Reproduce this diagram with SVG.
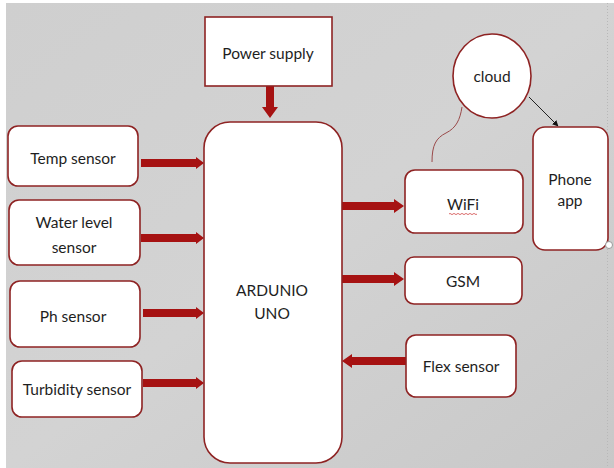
<svg xmlns="http://www.w3.org/2000/svg" width="614" height="468" viewBox="0 0 614 468">
  <defs>
    <linearGradient id="bg" x1="0" y1="0" x2="1" y2="1">
      <stop offset="0" stop-color="#cfcfcf"/>
      <stop offset="0.5" stop-color="#d3d3d3"/>
      <stop offset="1" stop-color="#c8c8c8"/>
    </linearGradient>
    <marker id="thin" viewBox="0 0 10 10" refX="9" refY="5" markerWidth="6" markerHeight="6" orient="auto">
      <path d="M0,0 L10,5 L0,10 z" fill="#111"/>
    </marker>
    <style>
      .box { fill: #ffffff; stroke: #8e2323; stroke-width: 1.6; }
      .t { font-family: Lato, "Open Sans", "Liberation Sans", sans-serif; font-size: 15.5px; fill: #1e1e1e; text-anchor: middle; }
      .arr { fill: #a61212; }
    </style>
  </defs>
  <rect x="0" y="0" width="614" height="468" fill="#ffffff"/>
  <rect x="6" y="3" width="608" height="465" fill="url(#bg)"/>
  <line x1="607.5" y1="3" x2="607.5" y2="468" stroke="#b8b8b8" stroke-width="1" stroke-dasharray="1 2"/>

  <g id="connectors">
    <!-- power down -->
    <polygon class="arr" points="266,86 274,86 274,107 278,107 270,118 262,107 266,107"/>
    <!-- sensors to arduino -->
    <polygon class="arr" points="141,159 196,159 196,157 204,163 196,169 196,167 141,167"/>
    <polygon class="arr" points="141,234 196,234 196,232 204,238 196,244 196,242 141,242"/>
    <polygon class="arr" points="143,309 196,309 196,307 204,313 196,319 196,317 143,317"/>
    <polygon class="arr" points="143,379 196,379 196,377 204,383 196,389 196,387 143,387"/>
    <!-- arduino to wifi / gsm -->
    <polygon class="arr" points="342,202 394,202 394,199 404,206 394,213 394,210 342,210"/>
    <polygon class="arr" points="342,275 394,275 394,272 404,279 394,286 394,283 342,283"/>
    <!-- flex to arduino -->
    <polygon class="arr" points="407,357 352,357 352,354 342,361 352,368 352,365 407,365"/>
    <!-- cloud to phone -->
    <line x1="529" y1="97" x2="558" y2="126" stroke="#222" stroke-width="1" marker-end="url(#thin)"/>
    <!-- wifi to cloud -->
    <path d="M432,162 C432,145 436,138 446,133 C456,128 460,120 462,107" fill="none" stroke="#9a4a4a" stroke-width="1"/>
  </g>

  <g id="power-supply">
    <rect class="box" x="205" y="17" width="127" height="69"/>
    <text class="t" x="268" y="59">Power supply</text>
  </g>
  <g id="arduino-uno">
    <rect class="box" x="204" y="122" width="138" height="341" rx="26"/>
    <text class="t" x="272" y="296">ARDUNIO</text>
    <text class="t" x="272" y="319">UNO</text>
  </g>
  <g id="temp-sensor">
    <rect class="box" x="8" y="126" width="130" height="60" rx="10"/>
    <text class="t" x="73" y="164">Temp sensor</text>
  </g>
  <g id="water-level-sensor">
    <rect class="box" x="9" y="200" width="131" height="65" rx="10"/>
    <text class="t" x="74" y="228">Water level</text>
    <text class="t" x="74" y="253">sensor</text>
  </g>
  <g id="ph-sensor">
    <rect class="box" x="10" y="281" width="130" height="66" rx="10"/>
    <text class="t" x="73" y="322">Ph sensor</text>
  </g>
  <g id="turbidity-sensor">
    <rect class="box" x="12" y="361" width="130" height="56" rx="10"/>
    <text class="t" x="77" y="395">Turbidity sensor</text>
  </g>
  <g id="wifi">
    <rect class="box" x="405" y="170" width="118" height="63" rx="10"/>
    <text class="t" x="463" y="210">WiFi</text>
    <path d="M449,214 q1,-1.2 2,0 t2,0 t2,0 t2,0 t2,0 t2,0 t2,0 t2,0 t2,0 t2,0 t2,0 t2,0 t2,0 t2,0" fill="none" stroke="#d04848" stroke-width="0.8"/>
  </g>
  <g id="gsm">
    <rect class="box" x="405" y="257" width="117" height="47" rx="9"/>
    <text class="t" x="463" y="287">GSM</text>
  </g>
  <g id="flex-sensor">
    <rect class="box" x="406" y="335" width="110" height="62" rx="10"/>
    <text class="t" x="461" y="372">Flex sensor</text>
  </g>
  <g id="phone-app">
    <rect class="box" x="533" y="127" width="75" height="123" rx="12"/>
    <text class="t" x="570" y="185">Phone</text>
    <text class="t" x="570" y="206">app</text>
    <circle cx="609" cy="245" r="3.5" fill="#ffffff" stroke="#999" stroke-width="1"/>
  </g>
  <g id="cloud">
    <ellipse class="box" cx="492" cy="76" rx="39" ry="42"/>
    <text class="t" x="492" y="82">cloud</text>
  </g>
</svg>
